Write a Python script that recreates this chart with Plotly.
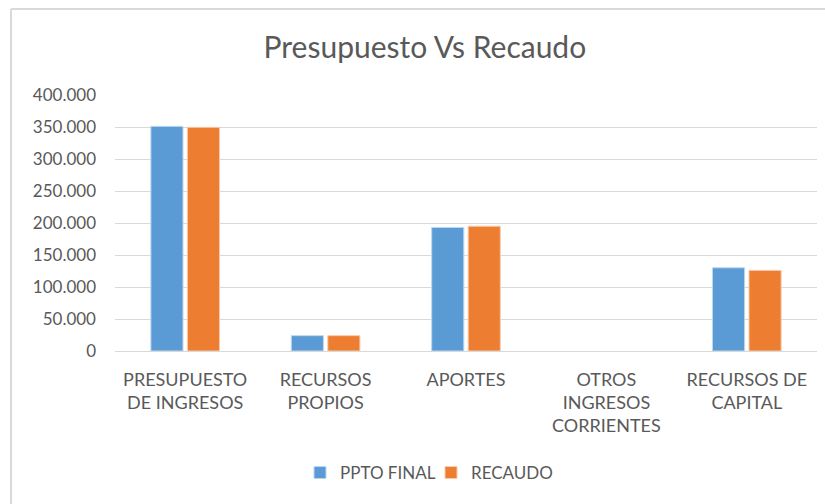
import plotly.graph_objects as go

categorias = [
    "PRESUPUESTO<br>DE INGRESOS",
    "RECURSOS<br>PROPIOS",
    "APORTES",
    "OTROS<br>INGRESOS<br>CORRIENTES",
    "RECURSOS DE<br>CAPITAL",
]
ppto_final = [351000, 24000, 193000, 0, 130000]
recaudo = [349500, 24000, 195000, 0, 126000]
ticks_y = [0, 50000, 100000, 150000, 200000, 250000, 300000, 350000, 400000]
ticks_y_texto = ["0", "50.000", "100.000", "150.000", "200.000", "250.000",
                 "300.000", "350.000", "400.000"]

AZUL = "#5B9BD5"
NARANJA = "#ED7D31"
TEXTO = "#595959"
REJILLA = "#D9D9D9"
FUENTE = "Lato, sans-serif"

W, H = 825, 504
ML, MR, MT, MB = 115, 8, 95, 153

pw = W - ML - MR
ph = H - MT - MB


def px_x(px):
    return (px - ML) / pw


def px_y(py):
    return (H - MB - py) / ph


def borde(valores, color):
    # no outline on empty bars
    return dict(color=color, width=[1 if v > 0 else 0 for v in valores])


fig = go.Figure()
fig.add_trace(go.Bar(name="PPTO FINAL", x=categorias, y=ppto_final,
                     marker=dict(color=AZUL, line=borde(ppto_final, "#BDD7EE"))))
fig.add_trace(go.Bar(name="RECAUDO", x=categorias, y=recaudo,
                     marker=dict(color=NARANJA, line=borde(recaudo, "#F8CBAD"))))

fig.update_layout(
    width=W, height=H,
    margin=dict(l=ML, r=MR, t=MT, b=MB),
    paper_bgcolor="white", plot_bgcolor="white",
    barmode="group", bargap=0.48, bargroupgap=0.12,
    font=dict(family=FUENTE, color=TEXTO, size=17),
    title=dict(text="Presupuesto Vs Recaudo", x=0.515, xanchor="center",
               y=1 - 47 / H, yanchor="middle",
               font=dict(family=FUENTE, size=30, color=TEXTO)),
    showlegend=True,
    legend=dict(orientation="h", x=px_x(300), xanchor="left",
                y=px_y(473), yanchor="middle",
                font=dict(family=FUENTE, size=17, color=TEXTO),
                itemwidth=30, entrywidth=86, entrywidthmode="pixels",
                traceorder="normal"),
    xaxis=dict(showgrid=False, showline=True, linecolor=REJILLA, linewidth=1,
               ticks="", ticklabelstandoff=12,
               tickfont=dict(family=FUENTE, size=18, color=TEXTO),
               fixedrange=True),
    yaxis=dict(range=[0, 400000], tickvals=ticks_y, ticktext=ticks_y_texto,
               showgrid=True, gridcolor=REJILLA, gridwidth=1, zeroline=False,
               showline=False, ticks="", ticklabelstandoff=18,
               tickfont=dict(family=FUENTE, size=17, color=TEXTO),
               fixedrange=True),
    shapes=[
        dict(type="line", xref="paper", yref="paper",
             x0=px_x(11), x1=px_x(11), y0=px_y(9), y1=px_y(510),
             line=dict(color=REJILLA, width=2)),
        dict(type="line", xref="paper", yref="paper",
             x0=px_x(11), x1=px_x(830), y0=px_y(9), y1=px_y(9),
             line=dict(color=REJILLA, width=2)),
    ],
)

fig.write_html("out.html")
